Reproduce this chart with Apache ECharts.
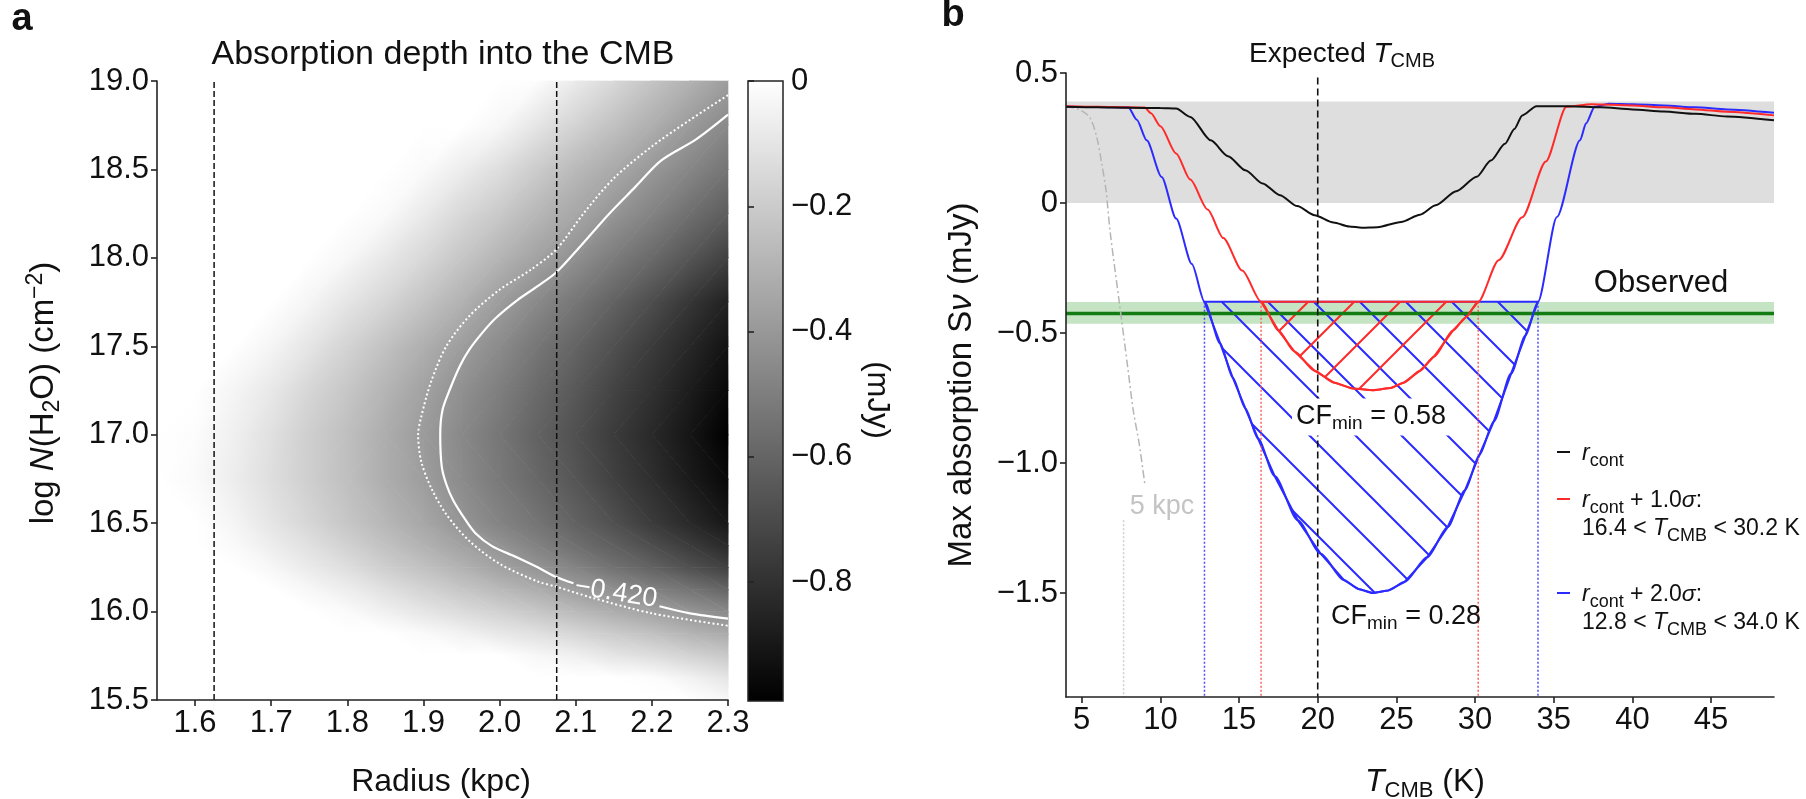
<!DOCTYPE html>
<html><head><meta charset="utf-8">
<script src="https://cdn.jsdelivr.net/npm/echarts@6.0.0/dist/echarts.min.js"></script>
<style>html,body{margin:0;padding:0;background:#fff}#c{width:1806px;height:799px}</style>
</head><body><div id="c"></div>
<script>
const FONT = "'Liberation Sans', Arial, Helvetica, sans-serif";

// ---------------- Panel a data ----------------
const radiusNodes = [1.55,1.60,1.65,1.70,1.75,1.80,1.85,1.90,1.95,2.00,2.05,2.10,2.15,2.20,2.25,2.30];
const logNNodes = [15.5,15.625,15.75,15.875,16.0,16.125,16.25,16.375,16.5,16.75,17.0,17.25,17.5,17.75,18.0,18.25,18.5,18.75,19.0];
// absorption depth (mJy), one row per logN node (bottom to top), one value per radius node
const depthRows = [
  [0,0,0,0,0,0,0,0,0,0,0,0,0,0,0,-0.03],
  [0,0,0,0,0,0,0,0,0,0,0,0,0,-0.01,-0.05,-0.10],
  [0,0,0,0,0,0,0,0,0,0,-0.03,-0.06,-0.10,-0.13,-0.17,-0.21],
  [0,0,0,0,0,0,0,-0.02,-0.05,-0.09,-0.12,-0.16,-0.20,-0.24,-0.29,-0.33],
  [0,0,0,0,0,-0.02,-0.06,-0.10,-0.14,-0.18,-0.22,-0.27,-0.32,-0.36,-0.41,-0.46],
  [0,0,0,0,-0.03,-0.07,-0.12,-0.17,-0.22,-0.27,-0.32,-0.38,-0.43,-0.49,-0.54,-0.60],
  [0,0,0,-0.03,-0.08,-0.13,-0.19,-0.24,-0.30,-0.36,-0.42,-0.48,-0.55,-0.61,-0.68,-0.74],
  [0,0,-0.02,-0.07,-0.12,-0.18,-0.24,-0.30,-0.36,-0.42,-0.49,-0.56,-0.62,-0.69,-0.76,-0.83],
  [0,0,-0.04,-0.10,-0.16,-0.22,-0.28,-0.34,-0.41,-0.48,-0.54,-0.61,-0.68,-0.76,-0.83,-0.90],
  [0,-0.02,-0.07,-0.13,-0.19,-0.25,-0.32,-0.38,-0.45,-0.52,-0.59,-0.66,-0.74,-0.81,-0.89,-0.96],
  [0,-0.01,-0.06,-0.12,-0.19,-0.25,-0.32,-0.39,-0.46,-0.53,-0.61,-0.68,-0.76,-0.83,-0.91,-0.99],
  [0,0,-0.04,-0.09,-0.16,-0.22,-0.29,-0.36,-0.43,-0.50,-0.58,-0.65,-0.73,-0.80,-0.88,-0.96],
  [0,0,0,-0.04,-0.10,-0.17,-0.24,-0.31,-0.38,-0.45,-0.53,-0.60,-0.68,-0.76,-0.84,-0.92],
  [0,0,0,0,-0.04,-0.10,-0.16,-0.23,-0.30,-0.38,-0.46,-0.53,-0.61,-0.69,-0.78,-0.86],
  [0,0,0,0,0,-0.03,-0.09,-0.15,-0.22,-0.29,-0.36,-0.43,-0.51,-0.58,-0.66,-0.74],
  [0,0,0,0,0,0,-0.02,-0.08,-0.15,-0.21,-0.28,-0.34,-0.41,-0.48,-0.56,-0.63],
  [0,0,0,0,0,0,0,-0.02,-0.07,-0.13,-0.20,-0.27,-0.33,-0.40,-0.47,-0.54],
  [0,0,0,0,0,0,0,0,0,-0.03,-0.10,-0.17,-0.24,-0.31,-0.39,-0.46],
  [0,0,0,0,0,0,0,0,0,0,-0.01,-0.08,-0.15,-0.23,-0.30,-0.38]
];
const depthMin = -0.99, depthMax = 0;
const radiusTicks = [1.6,1.7,1.8,1.9,2.0,2.1,2.2,2.3];
const logNTicks = [15.5,16.0,16.5,17.0,17.5,18.0,18.5,19.0];
const depthTicks = [0,-0.2,-0.4,-0.6,-0.8];
const radiusMarks = [1.625, 2.075];
const contourLabel = '\u22120.420';
const contourUpper = [[2.30,18.81],[2.258,18.67],[2.212,18.55],[2.178,18.40],[2.144,18.25],[2.107,18.07],[2.075,17.92],[2.05,17.84],[2.023,17.76],[1.995,17.66],[1.978,17.58],[1.96,17.48],[1.948,17.39],[1.935,17.26],[1.925,17.14],[1.922,17.0],[1.924,16.82],[1.93,16.72],[1.939,16.63],[1.955,16.52],[1.969,16.44],[1.99,16.37],[2.021,16.31],[2.05,16.25],[2.072,16.20],[2.097,16.16]];
const contourLower = [[2.21,16.03],[2.25,15.99],[2.30,15.96]];
const contourDotted = [[2.30,18.92],[2.25,18.78],[2.20,18.63],[2.15,18.45],[2.11,18.25],[2.075,18.05],[2.04,17.93],[2.0,17.82],[1.96,17.67],[1.93,17.50],[1.91,17.30],[1.897,17.10],[1.893,17.0],[1.897,16.85],[1.91,16.70],[1.93,16.55],[1.96,16.40],[2.0,16.27],[2.05,16.17],[2.075,16.14],[2.12,16.08],[2.2,15.99],[2.3,15.92]];

// ---------------- Panel b data ----------------
const tcmbTicks = [5,10,15,20,25,30,35,40,45];
const absTicks = [0.5,0,-0.5,-1.0,-1.5];
const contT = [4,6,8,10,11.0,11.9,13.2,14.3,15.4,16.5,17.6,18.7,19.8,21.0,22.0,22.8,23.8,25.3,26.5,27.5,28.8,30.1,31.0,31.9,32.5,33.0,33.9,36,38,40,42,44,46,49];
const contS = [0.37,0.368,0.366,0.365,0.363,0.331,0.241,0.18,0.126,0.075,0.030,-0.012,-0.047,-0.075,-0.09,-0.095,-0.093,-0.073,-0.045,-0.009,0.045,0.101,0.163,0.228,0.285,0.337,0.372,0.372,0.368,0.36,0.352,0.343,0.333,0.318];
const sig1T = [4,6,8,9.0,9.4,10.0,11.0,11.9,13.0,14.0,15.2,16.4,17.5,18.5,19.8,21.0,22.2,23.5,24.6,25.5,26.5,27.4,28.6,29.4,30.2,31.5,33.0,34.5,35.8,37.4,40,42,44,46,49];
const sig1S = [0.372,0.37,0.368,0.367,0.345,0.295,0.19,0.09,-0.025,-0.135,-0.26,-0.38,-0.49,-0.57,-0.645,-0.69,-0.713,-0.72,-0.712,-0.69,-0.645,-0.59,-0.49,-0.44,-0.38,-0.22,-0.055,0.16,0.37,0.38,0.375,0.368,0.36,0.351,0.337];
const sig2T = [4,6,7.96,8.5,9.13,10.08,11.0,12.0,12.8,13.8,14.6,15.4,16.2,17.26,18.73,20.19,21.66,22.6,23.49,24.5,25.5,26.97,28.26,29.36,30.27,31.19,32.29,33.2,34.0,35.2,36.67,37.05,37.6,38.5,40,42,44,46,49];
const sig2S = [0.37,0.369,0.368,0.32,0.241,0.10,-0.06,-0.235,-0.38,-0.54,-0.672,-0.79,-0.905,-1.05,-1.22,-1.349,-1.45,-1.485,-1.5,-1.49,-1.458,-1.362,-1.246,-1.105,-0.97,-0.84,-0.656,-0.51,-0.38,-0.054,0.241,0.306,0.37,0.382,0.38,0.375,0.368,0.36,0.347];
const kpc5T = [4,4.8,5.5,5.95,6.27,6.54,6.82,7.37,7.92,8.28,8.65,9.02];
const kpc5S = [0.37,0.36,0.33,0.254,0.152,0.05,-0.118,-0.374,-0.63,-0.8,-0.925,-1.086];
const observedS = -0.425, observedLow = -0.464, observedHigh = -0.381;
const cmbBand = [0, 0.39];
const expectedT = 20;
const hatchTop = -0.38;
const sig1Range = [16.4, 30.2];
const sig2Range = [12.8, 34.0];
const kpc5Mark = 7.66;
const absMin = -1.9, absMax = 0.5, tMin = 4, tMax = 49;

// ---------------- helpers ----------------
function zip(a, b) { return a.map((x, i) => [x, b[i]]); }
function gray(v) {
  const f = Math.max(0, Math.min(1, (v - depthMin) / (depthMax - depthMin)));
  const g = Math.round(255 * f);
  return 'rgb(' + g + ',' + g + ',' + g + ')';
}
function grow(pts, d) {
  const mx = (pts[0][0]+pts[1][0]+pts[2][0])/3, my = (pts[0][1]+pts[1][1]+pts[2][1])/3;
  return pts.map(p => { const dx = p[0]-mx, dy = p[1]-my, l = Math.sqrt(dx*dx+dy*dy) || 1; return [p[0]+dx/l*d, p[1]+dy/l*d]; });
}
function tri(a, b, c, va, vb, vc) {
  const lo = Math.min(va, vb, vc), hi = Math.max(va, vb, vc);
  let fill;
  if (hi - lo < 1e-9) fill = gray(lo);
  else {
    const d2x = b[0]-a[0], d2y = b[1]-a[1], d3x = c[0]-a[0], d3y = c[1]-a[1];
    const dv2 = vb - va, dv3 = vc - va;
    const det = d2x*d3y - d2y*d3x;
    const gx = (dv2*d3y - dv3*d2y)/det, gy = (d2x*dv3 - d3x*dv2)/det;
    const g2 = gx*gx + gy*gy;
    fill = new echarts.graphic.LinearGradient(
      a[0] + gx*(lo-va)/g2, a[1] + gy*(lo-va)/g2,
      a[0] + gx*(hi-va)/g2, a[1] + gy*(hi-va)/g2,
      [{offset:0, color:gray(lo)}, {offset:1, color:gray(hi)}], true);
  }
  return {type:'polygon', shape:{points:grow([a,b,c], 0.7)}, style:{fill:fill}};
}
const cells = [];
for (let j = 0; j < logNNodes.length - 1; j++)
  for (let i = 0; i < radiusNodes.length - 1; i++)
    cells.push([(radiusNodes[i]+radiusNodes[i+1])/2, (logNNodes[j]+logNNodes[j+1])/2, i, j]);
function renderCell(params, api) {
  const i = api.value(2), j = api.value(3);
  const v00 = depthRows[j][i], v10 = depthRows[j][i+1], v01 = depthRows[j+1][i], v11 = depthRows[j+1][i+1];
  if (v00 === 0 && v10 === 0 && v01 === 0 && v11 === 0) return null;
  const p00 = api.coord([radiusNodes[i], logNNodes[j]]);
  const p10 = api.coord([radiusNodes[i+1], logNNodes[j]]);
  const p01 = api.coord([radiusNodes[i], logNNodes[j+1]]);
  const p11 = api.coord([radiusNodes[i+1], logNNodes[j+1]]);
  const kids = Math.abs(v00 - v11) <= Math.abs(v10 - v01)
    ? [tri(p00,p10,p11,v00,v10,v11), tri(p00,p11,p01,v00,v11,v01)]
    : [tri(p10,p01,p00,v10,v01,v00), tri(p10,p11,p01,v10,v11,v01)];
  return {type:'group', children:kids};
}
function makeHatch(color, back) {
  const s = 46, c = document.createElement('canvas');
  c.width = s; c.height = s;
  const g = c.getContext('2d');
  g.strokeStyle = color; g.lineWidth = 2; g.beginPath();
  if (back) {
    g.moveTo(-4,-4); g.lineTo(s+4,s+4);
    g.moveTo(s-4,-4); g.lineTo(s+4,4);
    g.moveTo(-4,s-4); g.lineTo(4,s+4);
  } else {
    g.moveTo(-4,s+4); g.lineTo(s+4,-4);
    g.moveTo(-4,4); g.lineTo(4,-4);
    g.moveTo(s-4,s+4); g.lineTo(s+4,s-4);
  }
  g.stroke();
  return c;
}
const RED = '#ff2a2a', BLUE = '#2b2bff';
const blueHatch = makeHatch(BLUE, true), redHatch = makeHatch(RED, false);
const sig2Poly = zip(sig2T, sig2S).filter(p => p[0] >= sig2Range[0] && p[0] <= sig2Range[1]);
const sig1Poly = zip(sig1T, sig1S).filter(p => p[0] >= sig1Range[0] && p[0] <= sig1Range[1]);
function hatchSeries(poly, pattern, color, z) {
  return {type:'custom', xAxisIndex:2, yAxisIndex:2, z:z, silent:true, data:poly,
    renderItem: function(params, api) {
      if (params.dataIndex !== 0) return null;
      const pts = poly.map(p => api.coord(p));
      return {type:'polygon', shape:{points:pts}, style:{fill:{image:pattern, repeat:'repeat'}, stroke:color, lineWidth:2}};
    }};
}
function vline(x, y0, y1, color, type, width, z) {
  return {type:'line', xAxisIndex:2, yAxisIndex:2, z:z, silent:true, symbol:'none', data:[[x,y0],[x,y1]],
    lineStyle:{color:color, type:type, width:width}};
}
function rich(size, sub, color) {
  return {
    n:{fontSize:size, fontFamily:FONT, fill:color},
    i:{fontSize:size, fontFamily:FONT, fontStyle:'italic', fill:color},
    s:{fontSize:sub, fontFamily:FONT, fill:color, padding:[Math.round(sub*0.75),0,0,0]},
    p:{fontSize:sub, fontFamily:FONT, fill:color, padding:[0,0,Math.round(sub*0.75),0]}
  };
}
function txt(x, y, text, size, opts) {
  opts = opts || {};
  const color = opts.color || '#111';
  return {type:'text', x:x, y:y, rotation:opts.rot || 0, z:100, silent:true,
    style:{text:text, rich:rich(size, opts.sub || Math.round(size*0.7), color), fontSize:size, fontFamily:FONT,
      fontWeight:opts.bold ? 'bold' : 'normal', fill:color, align:opts.align || 'center', verticalAlign:'middle',
      backgroundColor:opts.bg, padding:opts.pad}};
}
function axisCommon(ticks, fmt, size) {
  return {
    axisLine:{show:true, onZero:false, lineStyle:{color:'#222', width:1.6}},
    axisTick:{show:true, customValues:ticks, length:6, lineStyle:{color:'#222', width:1.6}},
    axisLabel:{customValues:ticks, formatter:fmt, fontSize:size, fontFamily:FONT, color:'#111', margin:8},
    splitLine:{show:false}
  };
}
const minus = v => v === 0 ? '0' : (v < 0 ? '\u2212' : '') + Math.abs(v).toFixed(1);

const cbarGrad = new echarts.graphic.LinearGradient(0,0,0,1,[{offset:0,color:gray(depthMax)},{offset:1,color:gray(depthMin)}]);

const option = {
  animation:false,
  backgroundColor:'#fff',
  grid:[
    {left:157, top:81, width:571, height:619},
    {left:748, top:81, width:35, height:620, show:true, backgroundColor:cbarGrad, borderColor:'#222', borderWidth:1.5},
    {left:1066, top:73, width:708, height:624}
  ],
  xAxis:[
    Object.assign({gridIndex:0, type:'value', min:1.55, max:2.3, z:10}, axisCommon(radiusTicks, v => v.toFixed(1), 31)),
    {gridIndex:1, type:'value', min:0, max:1, show:false},
    Object.assign({gridIndex:2, type:'value', min:tMin, max:tMax, z:10}, axisCommon(tcmbTicks, v => String(v), 31))
  ],
  yAxis:[
    Object.assign({gridIndex:0, type:'value', min:15.5, max:19.0, z:10}, axisCommon(logNTicks, v => v.toFixed(1), 31)),
    Object.assign({gridIndex:1, type:'value', min:depthMin, max:depthMax, position:'right', z:10}, axisCommon(depthTicks, minus, 31), {axisLine:{show:false}}),
    Object.assign({gridIndex:2, type:'value', min:absMin, max:absMax, z:10}, axisCommon(absTicks, minus, 31))
  ],
  series:[
    // panel a heat map
    {type:'custom', xAxisIndex:0, yAxisIndex:0, z:1, silent:true, data:cells, renderItem:renderCell},
    {type:'line', xAxisIndex:0, yAxisIndex:0, z:3, silent:true, symbol:'none', smooth:0.3, data:contourUpper, lineStyle:{color:'#fff', width:2.2}},
    {type:'line', xAxisIndex:0, yAxisIndex:0, z:3, silent:true, symbol:'none', smooth:0.3, data:contourLower, lineStyle:{color:'#fff', width:2.2}},
    {type:'line', xAxisIndex:0, yAxisIndex:0, z:3, silent:true, symbol:'none', smooth:0.3, data:contourDotted, lineStyle:{color:'#fff', width:2, type:[2,2.5]}},
    ...radiusMarks.map(r => ({type:'line', xAxisIndex:0, yAxisIndex:0, z:4, silent:true, symbol:'none', data:[[r,15.5],[r,19.0]], lineStyle:{color:'#111', width:1.5, type:[6,3]}})),
    // panel b bands
    {type:'line', xAxisIndex:2, yAxisIndex:2, z:1, silent:true, symbol:'none', data:[[tMin,cmbBand[1]],[tMax,cmbBand[1]]], lineStyle:{width:0},
      markArea:{silent:true, itemStyle:{color:'#dedede'}, data:[[{yAxis:cmbBand[0]},{yAxis:cmbBand[1]}]]}},
    {type:'line', xAxisIndex:2, yAxisIndex:2, z:1, silent:true, symbol:'none', data:[[tMin,observedS],[tMax,observedS]], lineStyle:{width:0},
      markArea:{silent:true, itemStyle:{color:'#c4e4c4'}, data:[[{yAxis:observedLow},{yAxis:observedHigh}]]}},
    hatchSeries(sig2Poly, blueHatch, BLUE, 2),
    hatchSeries(sig1Poly, redHatch, RED, 2.1),
    {type:'line', xAxisIndex:2, yAxisIndex:2, z:3, silent:true, symbol:'none', data:[[tMin,observedS],[tMax,observedS]], lineStyle:{color:'#137d13', width:3.5}},
    vline(sig2Range[0], hatchTop, absMin, '#4b4bff', [2,2], 1.5, 2.5),
    vline(sig2Range[1], hatchTop, absMin, '#4b4bff', [2,2], 1.5, 2.5),
    vline(sig1Range[0], hatchTop, absMin, '#ff5c5c', [2,2], 1.5, 2.5),
    vline(sig1Range[1], hatchTop, absMin, '#ff5c5c', [2,2], 1.5, 2.5),
    vline(kpc5Mark, -1.22, absMin, '#cfcfcf', [2,2], 1.5, 2.5),
    vline(expectedT, 0.483, absMin, '#111', [7,4], 1.6, 4),
    {type:'line', xAxisIndex:2, yAxisIndex:2, z:3, silent:true, symbol:'none', smooth:0.3, data:zip(kpc5T,kpc5S), lineStyle:{color:'#b5b5b5', width:1.5, type:[8,3,2,3]}},
    {type:'line', xAxisIndex:2, yAxisIndex:2, z:5, silent:true, symbol:'none', smooth:0.25, smoothMonotone:'x', data:zip(sig2T,sig2S), lineStyle:{color:BLUE, width:2}},
    {type:'line', xAxisIndex:2, yAxisIndex:2, z:5, silent:true, symbol:'none', smooth:0.25, smoothMonotone:'x', data:zip(sig1T,sig1S), lineStyle:{color:RED, width:2}},
    {type:'line', xAxisIndex:2, yAxisIndex:2, z:6, silent:true, symbol:'none', smooth:0.25, smoothMonotone:'x', data:zip(contT,contS), lineStyle:{color:'#111', width:2}}
  ],
  graphic:[
    txt(22, 20, 'a', 38, {bold:true}),
    txt(953, 16, 'b', 38, {bold:true}),
    txt(443, 55, 'Absorption depth into the CMB', 34),
    txt(44, 393, '{n|log }{i|N}{n|(H}{s|2}{n|O) (cm}{p|\u22122}{n|)}', 33, {rot:Math.PI/2, sub:23}),
    txt(441, 782, 'Radius (kpc)', 32),
    txt(877, 400, '(mJy)', 31, {rot:-Math.PI/2}),
    txt(616, 593, contourLabel, 27, {rot:-0.16, color:'#fff'}),
    txt(1342, 54, '{n|Expected }{i|T}{s|CMB}', 28, {sub:20}),
    txt(962, 385, '{n|Max absorption S}{i|\u03bd}{n| (mJy)}', 33, {rot:Math.PI/2}),
    txt(1425, 782, '{i|T}{s|CMB}{n| (K)}', 32, {sub:22}),
    txt(1661, 283, 'Observed', 31),
    txt(1162, 507, '5 kpc', 27, {color:'#c4c4c4'}),
    txt(1371, 417, '{n|CF}{s|min}{n| = 0.58}', 27, {sub:19, bg:'#fff', pad:[2,4,2,4]}),
    txt(1406, 617, '{n|CF}{s|min}{n| = 0.28}', 27, {sub:19}),
    {type:'line', z:100, shape:{x1:1557, y1:452, x2:1570, y2:452}, style:{stroke:'#111', lineWidth:2}},
    txt(1582, 454, '{i|r}{s|cont}', 23, {align:'left', sub:18}),
    {type:'line', z:100, shape:{x1:1557, y1:499, x2:1570, y2:499}, style:{stroke:RED, lineWidth:2}},
    txt(1582, 501, '{i|r}{s|cont}{n| + 1.0}{i|\u03c3}{n|:}', 23, {align:'left', sub:18}),
    txt(1582, 529, '{n|16.4 < }{i|T}{s|CMB}{n| < 30.2 K}', 23, {align:'left', sub:18}),
    {type:'line', z:100, shape:{x1:1557, y1:593, x2:1570, y2:593}, style:{stroke:BLUE, lineWidth:2}},
    txt(1582, 595, '{i|r}{s|cont}{n| + 2.0}{i|\u03c3}{n|:}', 23, {align:'left', sub:18}),
    txt(1582, 623, '{n|12.8 < }{i|T}{s|CMB}{n| < 34.0 K}', 23, {align:'left', sub:18})
  ]
};
const chart = echarts.init(document.getElementById('c'), null, {renderer:'canvas'});
chart.setOption(option);
</script>
</body></html>
